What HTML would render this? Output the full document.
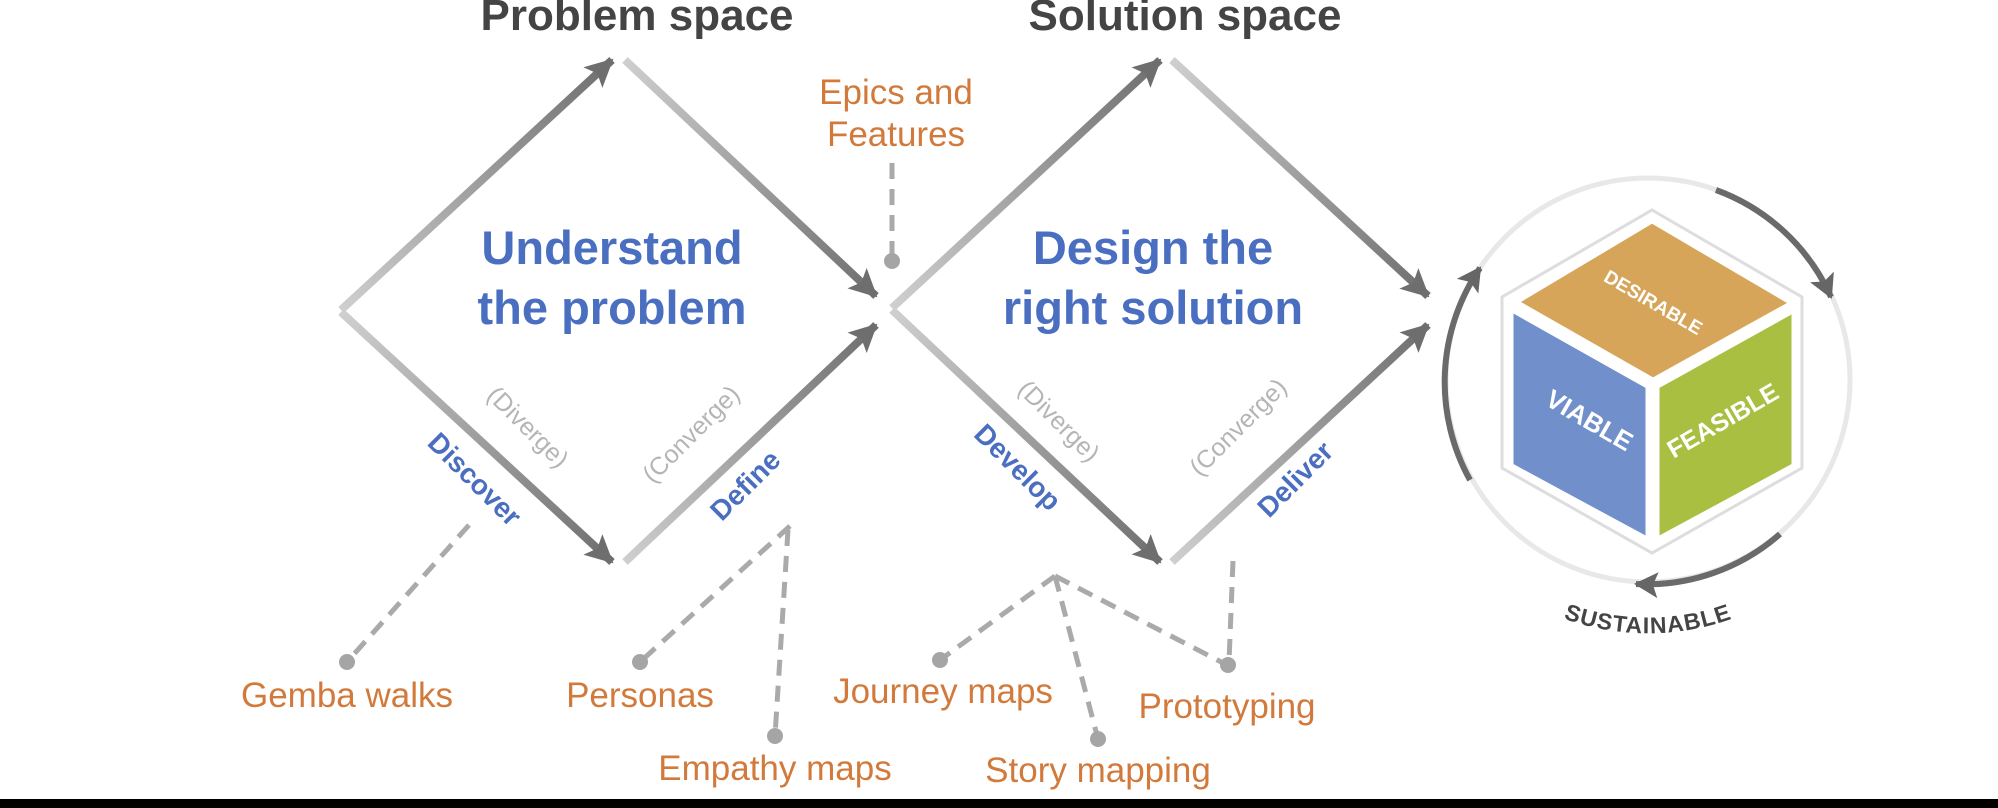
<!DOCTYPE html>
<html><head><meta charset="utf-8"><style>
html,body{margin:0;padding:0;background:#fff;}
svg{display:block;font-family:"Liberation Sans",Arial,sans-serif;}
</style></head><body>
<svg width="1998" height="808" viewBox="0 0 1998 808" xmlns="http://www.w3.org/2000/svg">
<defs>
<marker id="ah" markerUnits="userSpaceOnUse" markerWidth="30" markerHeight="28" refX="26" refY="14" orient="auto">
<path d="M0,0 L28,14 L0,28 L6,14 z" fill="#6e6e6e"/></marker>
<marker id="ah2" markerUnits="userSpaceOnUse" markerWidth="26" markerHeight="26" refX="22" refY="13" orient="auto">
<path d="M0,0 L24,13 L0,26 L5,13 z" fill="#666"/></marker>
<linearGradient id="g1" gradientUnits="userSpaceOnUse" x1="341" y1="310" x2="612" y2="60"><stop offset="0" stop-color="#cfcfcf"/><stop offset="1" stop-color="#6e6e6e"/></linearGradient>
<linearGradient id="g2" gradientUnits="userSpaceOnUse" x1="625" y1="60" x2="876" y2="296"><stop offset="0" stop-color="#cfcfcf"/><stop offset="1" stop-color="#6e6e6e"/></linearGradient>
<linearGradient id="g3" gradientUnits="userSpaceOnUse" x1="341" y1="316" x2="612" y2="562"><stop offset="0" stop-color="#cfcfcf"/><stop offset="1" stop-color="#6e6e6e"/></linearGradient>
<linearGradient id="g4" gradientUnits="userSpaceOnUse" x1="625" y1="562" x2="876" y2="325"><stop offset="0" stop-color="#cfcfcf"/><stop offset="1" stop-color="#6e6e6e"/></linearGradient>
<linearGradient id="h1" gradientUnits="userSpaceOnUse" x1="892" y1="306" x2="1160" y2="60"><stop offset="0" stop-color="#cfcfcf"/><stop offset="1" stop-color="#6e6e6e"/></linearGradient>
<linearGradient id="h2" gradientUnits="userSpaceOnUse" x1="1172" y1="60" x2="1428" y2="296"><stop offset="0" stop-color="#cfcfcf"/><stop offset="1" stop-color="#6e6e6e"/></linearGradient>
<linearGradient id="h3" gradientUnits="userSpaceOnUse" x1="892" y1="312" x2="1160" y2="562"><stop offset="0" stop-color="#cfcfcf"/><stop offset="1" stop-color="#6e6e6e"/></linearGradient>
<linearGradient id="h4" gradientUnits="userSpaceOnUse" x1="1172" y1="562" x2="1428" y2="325"><stop offset="0" stop-color="#cfcfcf"/><stop offset="1" stop-color="#6e6e6e"/></linearGradient>
<path id="sus" d="M1470,558 A248,248 0 0 0 1826,558"/>
</defs>

<text x="637" y="30" font-size="44" font-weight="bold" fill="#444" text-anchor="middle">Problem space</text>
<text x="1185" y="30" font-size="44" font-weight="bold" fill="#444" text-anchor="middle">Solution space</text>

<g stroke-width="8" fill="none">
<line x1="341" y1="310" x2="612" y2="60" stroke="url(#g1)" marker-end="url(#ah)"/>
<line x1="625" y1="60" x2="876" y2="296" stroke="url(#g2)" marker-end="url(#ah)"/>
<line x1="341" y1="312" x2="612" y2="562" stroke="url(#g3)" marker-end="url(#ah)"/>
<line x1="625" y1="562" x2="876" y2="325" stroke="url(#g4)" marker-end="url(#ah)"/>
<line x1="892" y1="308" x2="1160" y2="60" stroke="url(#h1)" marker-end="url(#ah)"/>
<line x1="1172" y1="60" x2="1428" y2="296" stroke="url(#h2)" marker-end="url(#ah)"/>
<line x1="892" y1="310" x2="1160" y2="562" stroke="url(#h3)" marker-end="url(#ah)"/>
<line x1="1172" y1="562" x2="1428" y2="325" stroke="url(#h4)" marker-end="url(#ah)"/>
</g>

<g font-size="47" font-weight="bold" fill="#4a6fc0" text-anchor="middle">
<text x="612" y="264">Understand</text>
<text x="612" y="324">the problem</text>
<text x="1153" y="264">Design the</text>
<text x="1153" y="324">right solution</text>
</g>

<g text-anchor="middle">
<text transform="translate(522,433) rotate(45)" font-size="25" fill="#b5b5b5">(Diverge)</text>
<text transform="translate(468,486) rotate(45)" font-size="28" font-weight="bold" fill="#4a6fc0">Discover</text>
<text transform="translate(697,440) rotate(-45)" font-size="25" fill="#b5b5b5">(Converge)</text>
<text transform="translate(752,492) rotate(-45)" font-size="28" font-weight="bold" fill="#4a6fc0">Define</text>
<text transform="translate(1053,427) rotate(45)" font-size="25" fill="#b5b5b5">(Diverge)</text>
<text transform="translate(1011,474) rotate(45)" font-size="28" font-weight="bold" fill="#4a6fc0">Develop</text>
<text transform="translate(1244,433) rotate(-45)" font-size="25" fill="#b5b5b5">(Converge)</text>
<text transform="translate(1302,486) rotate(-45)" font-size="28" font-weight="bold" fill="#4a6fc0">Deliver</text>
</g>

<g stroke="#aaa" stroke-width="5" stroke-dasharray="16,10" fill="none">
<line x1="892" y1="163" x2="892" y2="259"/>
<line x1="469" y1="525" x2="347" y2="662"/>
<line x1="790" y1="526" x2="640" y2="662"/>
<line x1="788" y1="530" x2="775" y2="736"/>
<line x1="1055" y1="576" x2="940" y2="660"/>
<line x1="1055" y1="576" x2="1098" y2="739"/>
<line x1="1055" y1="576" x2="1227" y2="665"/>
<line x1="1233" y1="561" x2="1229" y2="662"/>
</g>
<g fill="#a5a5a5">
<circle cx="892" cy="261" r="8"/><circle cx="347" cy="662" r="8"/><circle cx="640" cy="662" r="8"/>
<circle cx="775" cy="736" r="8"/><circle cx="940" cy="660" r="8"/><circle cx="1098" cy="739" r="8"/><circle cx="1228" cy="665" r="8"/>
</g>
<g font-size="35" fill="#d27a3c" text-anchor="middle">
<text x="896" y="104">Epics and</text>
<text x="896" y="146">Features</text>
<text x="347" y="707">Gemba walks</text>
<text x="640" y="707">Personas</text>
<text x="775" y="780">Empathy maps</text>
<text x="943" y="703">Journey maps</text>
<text x="1098" y="782">Story mapping</text>
<text x="1227" y="718">Prototyping</text>
</g>

<circle cx="1648" cy="380" r="202" fill="none" stroke="#e8e8e8" stroke-width="5"/>
<g stroke="#6a6a6a" stroke-width="6" fill="none">
<path d="M1716,190 A202,202 0 0 1 1831,297" marker-end="url(#ah2)"/>
<path d="M1780,534 A202,202 0 0 1 1636,584" marker-end="url(#ah2)"/>
<path d="M1470,480 A202,202 0 0 1 1480,268" marker-end="url(#ah2)"/>
</g>
<text font-size="23" font-weight="bold" fill="#444" letter-spacing="1"><textPath href="#sus" startOffset="50%" text-anchor="middle">SUSTAINABLE</textPath></text>

<polygon points="1652,210 1802,297 1802,468 1652,553 1502,468 1502,297" fill="#fff" stroke="#ddd" stroke-width="3"/>
<polygon points="1652,222 1790,303 1653,379 1518,302" fill="#d6a559" stroke="#fff" stroke-width="3"/>
<polygon points="1512,311 1647,387 1647,538 1512,465" fill="#7190cb" stroke="#fff" stroke-width="3"/>
<polygon points="1658,387 1793,312 1793,465 1658,538" fill="#a9bf42" stroke="#fff" stroke-width="3"/>
<g font-weight="bold" fill="#fff" text-anchor="middle">
<text transform="translate(1650,308) rotate(30)" font-size="19">DESIRABLE</text>
<text transform="translate(1585,428) rotate(30)" font-size="26">VIABLE</text>
<text transform="translate(1727,428) rotate(-30)" font-size="25">FEASIBLE</text>
</g>

<rect x="0" y="799" width="1998" height="9" fill="#000"/>
</svg>
</body></html>
